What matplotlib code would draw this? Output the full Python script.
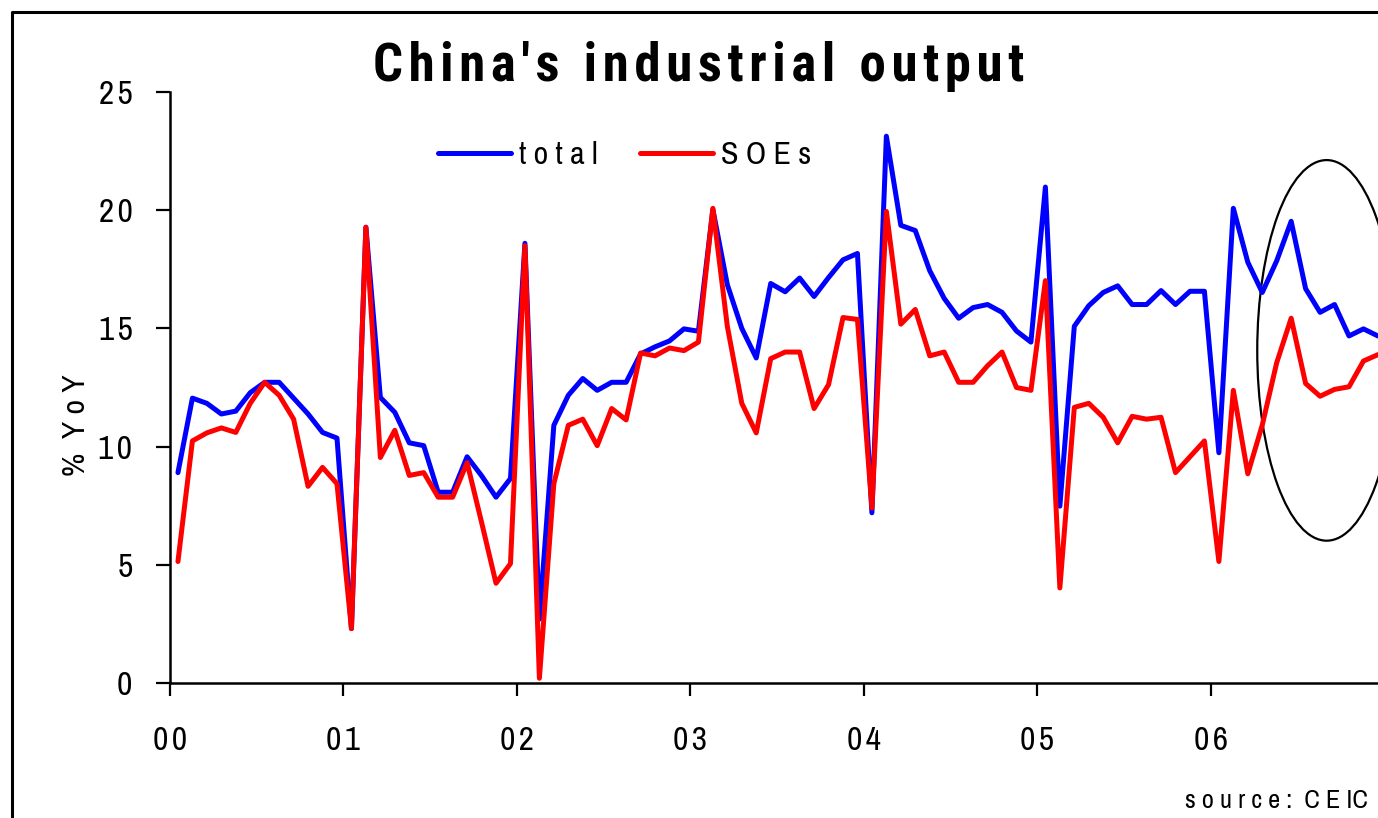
import numpy as np
from matplotlib import pyplot as plt
from matplotlib.patches import Ellipse
from matplotlib.lines import Line2D

# monthly % YoY, Jan 2000 - Dec 2006
years = ['00', '01', '02', '03', '04', '05', '06']
total = [8.9, 12.05, 11.83, 11.38, 11.5, 12.28, 12.72, 12.72, 12.05, 11.38, 10.6, 10.36,
         2.3, 19.28, 12.08, 11.45, 10.16, 10.04, 8.07, 8.07, 9.57, 8.77, 7.86, 8.65,
         18.6, 2.7, 10.9, 12.17, 12.88, 12.38, 12.72, 12.72, 13.92, 14.22, 14.47, 14.98,
         14.88, 20.03, 16.85, 15.0, 13.75, 16.9, 16.55, 17.13, 16.35, 17.15, 17.9, 18.17,
         7.2, 23.13, 19.36, 19.14, 17.44, 16.27, 15.43, 15.88, 16.01, 15.68, 14.89, 14.42,
         20.98, 7.48, 15.09, 15.96, 16.52, 16.8, 16.01, 16.01, 16.6, 16.01, 16.57, 16.57,
         9.74, 20.08, 17.8, 16.52, 17.86, 19.53, 16.68, 15.68, 16.01, 14.68, 14.98, 14.68]
soes = [5.14, 10.24, 10.58, 10.79, 10.6, 11.83, 12.72, 12.17, 11.16, 8.32, 9.12, 8.43,
        2.3, 19.28, 9.54, 10.69, 8.78, 8.9, 7.86, 7.86, 9.32, 6.8, 4.22, 5.05,
        18.5, 0.2, 8.43, 10.9, 11.16, 10.04, 11.61, 11.13, 13.96, 13.84, 14.17, 14.06,
        14.42, 20.08, 15.09, 11.83, 10.58, 13.72, 14.0, 14.0, 11.61, 12.62, 15.46, 15.38,
        7.4, 19.95, 15.18, 15.8, 13.84, 14.0, 12.72, 12.72, 13.42, 14.0, 12.5, 12.38,
        17.02, 4.02, 11.66, 11.83, 11.24, 10.16, 11.28, 11.16, 11.24, 8.9, 9.57, 10.24,
        5.14, 12.38, 8.85, 10.91, 13.55, 15.43, 12.67, 12.13, 12.42, 12.53, 13.62, 13.89]
yticks = [0, 5, 10, 15, 20, 25]

HAIR = '\u200a'


def spaced(s, gap=' '):
    return gap.join(s)


def main():
    plt.rcParams['font.family'] = ['Archivo Narrow', 'DejaVu Sans']

    fig = plt.figure(figsize=(13.78, 8.18), dpi=100)
    ax = fig.add_axes([170 / 1378, 1 - 683 / 818, 1 - 170 / 1378, 591 / 818])

    x = np.arange(len(total)) / 12 + 0.55 / 12
    ax.plot(x, total, color='#0000ff', lw=3.6, label=spaced('total'), solid_capstyle='round')
    ax.plot(x, soes, color='#ff0000', lw=3.6, label=spaced('SOEs'), solid_capstyle='round')

    ax.set_xlim(0, 6.963)
    ax.set_ylim(0, 25)
    ax.set_xticks(range(len(years)))
    ax.set_xticklabels([spaced(y, HAIR) for y in years], fontsize=24)
    ax.set_yticks(yticks)
    ax.set_yticklabels([spaced(str(t), HAIR) for t in yticks], fontsize=24)
    ax.tick_params(axis='y', length=10, width=1.6, pad=17)
    ax.tick_params(axis='x', length=9, width=1.6, pad=22)
    for s in ['top', 'right']:
        ax.spines[s].set_visible(False)
    for s in ['left', 'bottom']:
        ax.spines[s].set_linewidth(1.8)

    ax.set_ylabel('%  Y o Y', fontsize=23)
    ax.yaxis.set_label_coords(-0.066, 0.4365)

    # circled recent months
    ax.add_patch(Ellipse((6.667, 14.07), 0.80, 16.1, fill=False, lw=1.6, color='black', clip_on=False))

    ax.legend(ncol=2, frameon=False, fontsize=23, loc='center left',
              bbox_to_anchor=(422 / 1378, 1 - 155 / 818), bbox_transform=fig.transFigure,
              borderpad=0, handlelength=2.3, handletextpad=0.25, columnspacing=1.3)

    title = '  '.join(spaced(w, HAIR) for w in ["China's", 'industrial', 'output'])
    fig.text(0.507, 1 - 66 / 818, title,
             fontsize=38, fontweight='bold', ha='center', va='center',
             family=['Roboto Condensed', 'DejaVu Sans'])
    fig.text(1368 / 1378, 1 - 800 / 818, 's o u r c e :  C E IC', fontsize=19, ha='right', va='center')

    # chart frame
    fig.add_artist(Line2D([12 / 1378, 12 / 1378, 1.0], [0, 1 - 12 / 818, 1 - 12 / 818],
                          transform=fig.transFigure, color='black', lw=2.2))

    plt.savefig('out.png', dpi=100)


if __name__ == '__main__':
    main()
